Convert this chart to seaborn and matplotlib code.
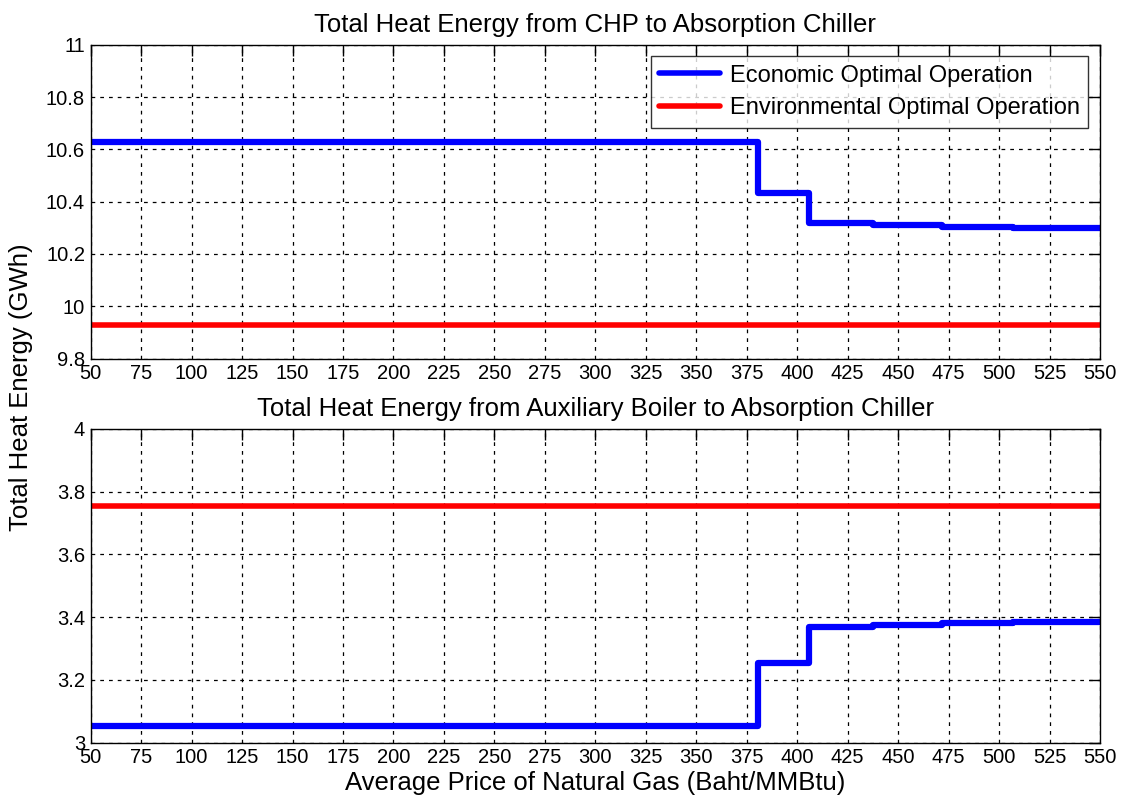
import numpy as np
import pandas as pd
import matplotlib
matplotlib.use("Agg")
import matplotlib.pyplot as plt
import seaborn as sns

# Data
price_breaks = [50, 380.7, 406.0, 437.5, 471.6, 507.0, 550]
chp_econ = [10.629, 10.434, 10.317, 10.309, 10.304, 10.299, 10.299]
chp_env = 9.93
boiler_econ = [3.053, 3.253, 3.370, 3.375, 3.380, 3.385, 3.385]
boiler_env = 3.755
x_ticks = list(range(50, 551, 25))
top_yticks = [9.8, 10, 10.2, 10.4, 10.6, 10.8, 11]
bot_yticks = [3, 3.2, 3.4, 3.6, 3.8, 4]

sns.set_style("white")
plt.rcParams['font.family'] = ['Liberation Sans', 'DejaVu Sans']
plt.rcParams['text.color'] = 'black'
plt.rcParams['axes.labelcolor'] = 'black'
plt.rcParams['axes.titlecolor'] = 'black'

fig = plt.figure(figsize=(11.29, 8.05), dpi=100)
ax1 = fig.add_axes([0.0803, 0.5545, 0.894, 0.390])
ax2 = fig.add_axes([0.0803, 0.0774, 0.894, 0.3897])

def style(ax, yticks, ylim):
    ax.set_xlim(50, 550)
    ax.set_ylim(*ylim)
    ax.set_xticks(x_ticks)
    ax.set_yticks(yticks)
    ax.set_yticklabels([f"{v:g}" for v in yticks])
    ax.tick_params(direction='in', top=True, right=True, length=8, width=1,
                   labelsize=14.5, colors='black', pad=4)
    ax.grid(True, color='black', linestyle=(0, (3, 4)), linewidth=0.9)
    for s in ax.spines.values():
        s.set_color('black')
        s.set_linewidth(1.0)
    ax.set_xlabel('')
    ax.set_ylabel('')

df1 = pd.DataFrame({'price': price_breaks, 'val': chp_econ})
sns.lineplot(data=df1, x='price', y='val', ax=ax1, color='#0000ff', linewidth=4.5,
             drawstyle='steps-post', label='Economic Optimal Operation')
df1e = pd.DataFrame({'price': [50, 550], 'val': [chp_env, chp_env]})
sns.lineplot(data=df1e, x='price', y='val', ax=ax1, color='#ff0000', linewidth=4,
             label='Environmental Optimal Operation')
style(ax1, top_yticks, (9.8, 11))
ax1.set_title('Total Heat Energy from CHP to Absorption Chiller', fontsize=18.5, pad=9)
leg = ax1.legend(loc='upper right', fontsize=17, frameon=True, fancybox=False,
                 edgecolor='black', handlelength=2.6, borderaxespad=0.5,
                 labelspacing=0.45, handletextpad=0.4, borderpad=0.35)
leg.get_frame().set_linewidth(1.0)
for line in leg.get_lines():
    line.set_linewidth(4)

df2 = pd.DataFrame({'price': price_breaks, 'val': boiler_econ})
sns.lineplot(data=df2, x='price', y='val', ax=ax2, color='#0000ff', linewidth=4.5,
             drawstyle='steps-post', legend=False)
df2e = pd.DataFrame({'price': [50, 550], 'val': [boiler_env, boiler_env]})
sns.lineplot(data=df2e, x='price', y='val', ax=ax2, color='#ff0000', linewidth=4, legend=False)
style(ax2, bot_yticks, (3, 4))
ax2.set_title('Total Heat Energy from Auxiliary Boiler to Absorption Chiller', fontsize=18.5, pad=9)
ax2.set_xlabel('Average Price of Natural Gas (Baht/MMBtu)', fontsize=18.5, labelpad=3)

fig.text(0.019, 0.519, 'Total Heat Energy (GWh)', rotation=90, va='center', ha='center', fontsize=18.5)

fig.savefig('out.png', dpi=100, facecolor='white')
